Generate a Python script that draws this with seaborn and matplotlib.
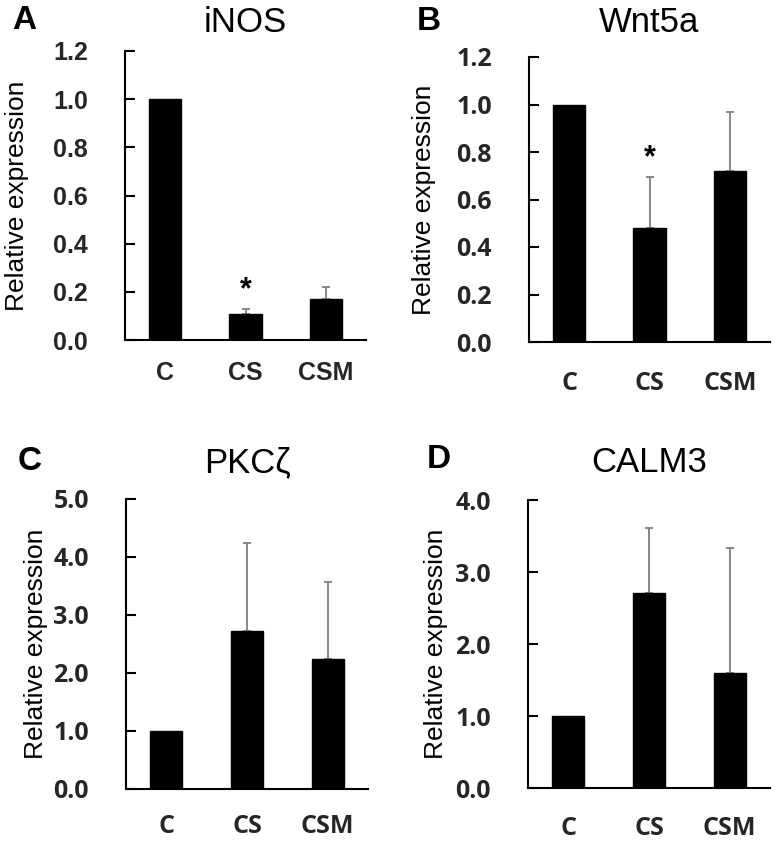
import matplotlib
matplotlib.use("Agg")
import matplotlib.pyplot as plt
import seaborn as sns
import pandas as pd
import numpy as np

categories = ["C", "CS", "CSM"]

inos_mean = [1.0, 0.11, 0.17]
inos_err = [0.0, 0.02, 0.05]
wnt5a_mean = [1.0, 0.48, 0.72]
wnt5a_err = [0.0, 0.215, 0.25]
pkcz_mean = [1.0, 2.72, 2.25]
pkcz_err = [0.0, 1.53, 1.32]
calm3_mean = [1.0, 2.71, 1.60]
calm3_err = [0.0, 0.90, 1.73]

titles = ["iNOS", "Wnt5a", "PKC\u03b6", "CALM3"]
letters = ["A", "B", "C", "D"]
ylims = [1.2, 1.2, 5.0, 4.0]
yticks = [[0.0, 0.2, 0.4, 0.6, 0.8, 1.0, 1.2],
          [0.0, 0.2, 0.4, 0.6, 0.8, 1.0, 1.2],
          [0.0, 1.0, 2.0, 3.0, 4.0, 5.0],
          [0.0, 1.0, 2.0, 3.0, 4.0]]
stars = [[False, True, False], [False, True, False],
         [False, False, False], [False, False, False]]

means = [inos_mean, wnt5a_mean, pkcz_mean, calm3_mean]
errs = [inos_err, wnt5a_err, pkcz_err, calm3_err]

sns.set_theme(style="white")
plt.rcParams["font.family"] = ["Liberation Sans", "DejaVu Sans"]

fig = plt.figure(figsize=(7.79, 8.43), dpi=100)
W, H = 779, 843
PT = 0.72  # points per pixel at dpi 100
# (left, right, top, bottom) in pixels
boxes = [(125, 366, 51, 340), (529, 770, 57, 342),
         (126, 368, 499, 789), (528, 770, 500, 788)]
tick_fonts = ["Liberation Sans", "Open Sans", "Open Sans", "Open Sans"]
title_pad_px = [19, 25, 27, 28]
xlab_pad_px = [21, 29, 25, 28]
ylab_x = [-0.40, -0.386, -0.322, -0.33]
letter_pos = [(-0.469, 1.104), (-0.465, 1.123), (-0.446, 1.131), (-0.417, 1.139)]

for i in range(4):
    l, r, t, b = boxes[i]
    ax = fig.add_axes([l / W, (H - b) / H, (r - l) / W, (b - t) / H])
    df = pd.DataFrame({"group": categories, "value": means[i]})
    sns.barplot(data=df, x="group", y="value", color="black", width=0.4,
                saturation=1, ax=ax, errorbar=None)
    for p in ax.patches:
        p.set_zorder(3)
        p.set_edgecolor("black")
    xs = np.arange(len(categories))
    e = np.array(errs[i])
    m = np.array(means[i])
    keep = e > 0
    ax.errorbar(xs[keep], m[keep], yerr=[np.zeros(keep.sum()), e[keep]],
                fmt="none", ecolor="#7f7f7f", elinewidth=1.3, capsize=3,
                capthick=1.3, zorder=1)
    for j in range(len(categories)):
        if stars[i][j]:
            ax.text(xs[j], m[j] + e[j] + ylims[i] * 0.012, "*",
                    ha="center", va="bottom", fontsize=22, fontweight="bold",
                    color="black")
    ax.set_xlim(-0.5, 2.5)
    ax.set_ylim(0, ylims[i])
    ax.set_yticks(yticks[i])
    ax.set_yticklabels([f"{v:.1f}" for v in yticks[i]],
                       fontsize=18, fontweight="bold", family=tick_fonts[i])
    ax.set_xticks(xs)
    ax.set_xticklabels(categories, fontsize=18, fontweight="bold",
                       family=tick_fonts[i])
    ax.set_xticks([0.5, 1.5, 2.5], minor=True)
    ax.tick_params(axis="x", which="major", length=0, pad=xlab_pad_px[i] * PT)
    ax.tick_params(axis="x", which="minor", direction="in", length=7,
                   width=1.5, color="black")
    ax.tick_params(axis="y", direction="in", length=7, width=1.5,
                   color="black", left=True, pad=37 * PT)
    for s in ["top", "right"]:
        ax.spines[s].set_visible(False)
    for s in ["left", "bottom"]:
        ax.spines[s].set_color("black")
        ax.spines[s].set_linewidth(1.5)
        ax.spines[s].set_zorder(4)
    ax.set_xlabel("")
    ax.set_ylabel("Relative expression", fontsize=19, color="black")
    ax.yaxis.set_label_coords(ylab_x[i], 0.5)
    ax.set_title(titles[i], fontsize=25, color="black",
                 pad=title_pad_px[i] * PT)
    lx, ly = letter_pos[i]
    ax.text(lx, ly, letters[i], transform=ax.transAxes, fontsize=24,
            fontweight="bold", ha="left", va="center", color="black")

fig.savefig("out.png", dpi=100, facecolor="white")
